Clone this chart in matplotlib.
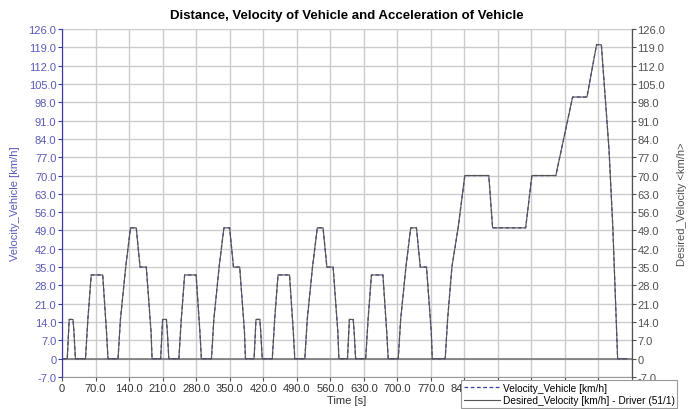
import matplotlib.pyplot as plt
from matplotlib.ticker import FuncFormatter, MultipleLocator

# desired velocity profile (NEDC): breakpoints time [s] / speed [km/h]
time_s = [0, 11, 15, 23, 25, 28, 49, 54, 61, 85, 93, 96, 117, 122, 133, 143, 155, 163, 176, 186, 188,
          195, 206, 210, 218, 220, 223, 244, 249, 256, 280, 288, 291, 312, 317, 328, 338, 350, 358, 371, 381, 383,
          390, 401, 405, 413, 415, 418, 439, 444, 451, 475, 483, 486, 507, 512, 523, 533, 545, 553, 566, 576, 578,
          585, 596, 600, 608, 610, 613, 634, 639, 646, 670, 678, 681, 702, 707, 718, 728, 740, 748, 761, 771, 773,
          780, 800, 805, 814, 827, 841, 891, 899, 968, 981, 1031, 1066, 1096, 1116, 1126, 1142, 1150, 1160, 1180]
desired = [0, 0, 15, 15, 10, 0, 0, 15, 32, 32, 10, 0, 0, 15, 35, 50, 50, 35, 35, 10, 0,
           0, 0, 15, 15, 10, 0, 0, 15, 32, 32, 10, 0, 0, 15, 35, 50, 50, 35, 35, 10, 0,
           0, 0, 15, 15, 10, 0, 0, 15, 32, 32, 10, 0, 0, 15, 35, 50, 50, 35, 35, 10, 0,
           0, 0, 15, 15, 10, 0, 0, 15, 32, 32, 10, 0, 0, 15, 35, 50, 50, 35, 35, 10, 0,
           0, 0, 15, 35, 50, 70, 70, 50, 50, 70, 70, 100, 100, 120, 120, 80, 50, 0, 0]
# vehicle follows the driver demand closely
vehicle = [0, 0, 15, 15, 10, 0, 0, 15, 32, 32, 10, 0, 0, 15, 35, 50, 50, 35, 35, 10, 0,
           0, 0, 15, 15, 10, 0, 0, 15, 32, 32, 10, 0, 0, 15, 35, 50, 50, 35, 35, 10, 0,
           0, 0, 15, 15, 10, 0, 0, 15, 32, 32, 10, 0, 0, 15, 35, 50, 50, 35, 35, 10, 0,
           0, 0, 15, 15, 10, 0, 0, 15, 32, 32, 10, 0, 0, 15, 35, 50, 50, 35, 35, 10, 0,
           0, 0, 15, 35, 50, 70, 70, 50, 50, 70, 70, 100, 100, 120, 120, 80, 50, 0, 0]

plt.rcParams['font.family'] = ['Liberation Sans', 'DejaVu Sans']
blue = '#3a3aa8'
label_blue = '#5a5ab8'
gray = '#505050'

fig = plt.figure(figsize=(6.9, 4.1), dpi=100)
ax = fig.add_axes([62 / 690, 1 - 378 / 410, 570 / 690, 348 / 410])
ax2 = ax.twinx()

fmt = FuncFormatter(lambda v, p: '0' if abs(v) < 1e-9 else f'{v:.1f}')

for a in (ax, ax2):
    a.set_ylim(-7, 126)
    a.yaxis.set_major_locator(MultipleLocator(7))
    a.yaxis.set_major_formatter(fmt)
ax.set_xlim(0, 1190)
ax.xaxis.set_major_locator(MultipleLocator(70))
ax.xaxis.set_major_formatter(fmt)

ax.grid(True, color='#cccccc', linewidth=1)
ax.set_axisbelow(True)
ax.axhline(0, color='#777777', linewidth=1.2, zorder=1)

l1, = ax.plot(time_s, vehicle, color=blue, linestyle=(0, (3, 2)), linewidth=0.9, zorder=2)
l2, = ax.plot(time_s, desired, color='#555555', linewidth=0.8, zorder=3)

ax.set_title('Distance, Velocity of Vehicle and Acceleration of Vehicle',
             fontsize=9.5, fontweight='bold', pad=8)
ax.set_xlabel('Time [s]', fontsize=8, color='#333333', labelpad=2)
ax.set_ylabel('Velocity_Vehicle [km/h]', fontsize=8, color=label_blue, labelpad=6)
ax2.set_ylabel('Desired_Velocity <km/h>', fontsize=8, color=gray, labelpad=8)

ax.tick_params(axis='y', colors=blue, labelcolor=label_blue, labelsize=8, length=3, pad=1)
ax.tick_params(axis='x', colors=gray, labelcolor='#333333', labelsize=8, length=3, pad=1)
ax2.tick_params(axis='y', colors=gray, labelcolor=gray, labelsize=8, length=3, pad=1)

for a in (ax, ax2):
    a.spines['top'].set_visible(False)
ax.spines['left'].set_color(blue)
ax.spines['bottom'].set_color('#999999')
ax2.spines['left'].set_color(blue)
ax2.spines['right'].set_color(gray)
ax2.spines['bottom'].set_visible(False)

leg = ax2.legend([l1, l2], ['Velocity_Vehicle [km/h]', 'Desired_Velocity [km/h] - Driver (51/1)'],
                 loc='upper left', bbox_to_anchor=(0.70, -0.008), fontsize=7.3,
                 fancybox=False, framealpha=1, edgecolor='#999999', borderpad=0.3,
                 labelspacing=0.25, handlelength=3.5, handletextpad=0.3, borderaxespad=0)
leg.get_frame().set_linewidth(0.8)
leg.set_zorder(10)
leg.set_clip_on(False)

fig.savefig('out.png', dpi=100)
